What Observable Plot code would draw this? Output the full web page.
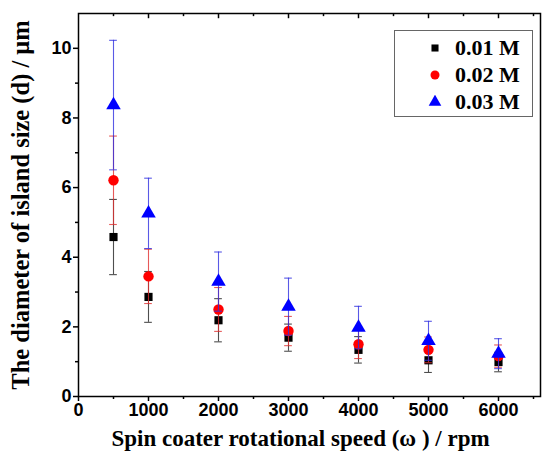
<!DOCTYPE html>
<html>
<head>
<meta charset="utf-8">
<script src="https://cdn.jsdelivr.net/npm/d3@7"></script>
<script src="https://cdn.jsdelivr.net/npm/@observablehq/plot@0.6"></script>
<style>
  html, body { margin: 0; padding: 0; background: #fff; }
  #wrap { position: relative; width: 544px; height: 457px; }
  #legend { position: absolute; left: 394px; top: 30px; width: 139px; height: 87px;
    border: 1px solid #666; background: #fff; box-sizing: border-box;
    font-family: "Liberation Serif", "Times New Roman", serif; font-weight: bold; font-size: 22px; }
  .row { position: absolute; left: 0; height: 24px; display: flex; align-items: center; }
  .row svg { margin-left: 33px; }
  .row span { margin-left: 13px; }
</style>
</head>
<body>
<div id="wrap"></div>
<script>
const speeds = [500, 1000, 2000, 3000, 4000, 5000, 6000];
const series = ["0.01 M", "0.02 M", "0.03 M"];
const d001 = [4.58, 2.86, 2.19, 1.69, 1.34, 1.04, 0.99];
const e001 = [1.08, 0.73, 0.62, 0.39, 0.38, 0.35, 0.28];
const d002 = [6.21, 3.45, 2.50, 1.88, 1.50, 1.34, 1.16];
const e002 = [1.27, 0.78, 0.63, 0.42, 0.41, 0.37, 0.32];
const d003 = [8.37, 5.26, 3.30, 2.58, 1.98, 1.60, 1.23];
const e003 = [1.86, 1.01, 0.85, 0.82, 0.61, 0.56, 0.43];
const xTicks = [0, 1000, 2000, 3000, 4000, 5000, 6000];
const xMinor = [500, 1500, 2500, 3500, 4500, 5500, 6500];
const yTicks = [0, 2, 4, 6, 8, 10];
const yMinor = [1, 3, 5, 7, 9];

const colors = {"0.01 M": "#000000", "0.02 M": "#ff0000", "0.03 M": "#0000ff"};
const barColors = {"0.01 M": "#222222", "0.02 M": "#e03030", "0.03 M": "#3030e0"};
const symbols = {"0.01 M": "square", "0.02 M": "circle", "0.03 M": "triangle"};
const radii = {"0.01 M": 4.6, "0.02 M": 5.2, "0.03 M": 5.4};

const vals = [d001, d002, d003];
const errs = [e001, e002, e003];
const data = [];
series.forEach((s, i) => speeds.forEach((x, j) => data.push({s, x, y: vals[i][j], e: errs[i][j]})));

const capHalf = 55;
const tickFont = "Liberation Sans, Arial, sans-serif";
const titleFont = "Liberation Serif, Times New Roman, serif";

const marks = [];
marks.push(Plot.frame({stroke: "#000", strokeWidth: 1.5}));
marks.push(Plot.axisX({ticks: xTicks, tickSize: 5, tickPadding: 2, tickFormat: d => String(d), label: null,
  fontSize: 18, fontWeight: "bold", fontFamily: tickFont, strokeWidth: 1.5}));
marks.push(Plot.axisX({ticks: xMinor, tickSize: 3, text: null, label: null, strokeWidth: 1.5}));
marks.push(Plot.axisY({ticks: yTicks, tickSize: 5, tickPadding: 2, tickFormat: d => String(d), label: null,
  fontSize: 18, fontWeight: "bold", fontFamily: tickFont, strokeWidth: 1.5}));
marks.push(Plot.axisY({ticks: yMinor, tickSize: 3, text: null, label: null, strokeWidth: 1.5}));
// inward ticks on top
marks.push(Plot.ruleX(xTicks.slice(1), {x: d => d, y1: 11, y2: 11 - 0.15, stroke: "#000", strokeWidth: 1.5}));
marks.push(Plot.ruleX(xMinor, {x: d => d, y1: 11, y2: 11 - 0.09, stroke: "#000", strokeWidth: 1.5}));

series.forEach(s => {
  const sub = data.filter(d => d.s === s);
  marks.push(Plot.ruleX(sub, {x: "x", y1: d => d.y - d.e, y2: d => d.y + d.e, stroke: barColors[s], strokeWidth: 1.1, strokeOpacity: 0.8}));
  marks.push(Plot.ruleY(sub, {y: d => d.y + d.e, x1: d => d.x - capHalf, x2: d => d.x + capHalf, stroke: barColors[s], strokeWidth: 1.1, strokeOpacity: 0.8}));
  marks.push(Plot.ruleY(sub, {y: d => d.y - d.e, x1: d => d.x - capHalf, x2: d => d.x + capHalf, stroke: barColors[s], strokeWidth: 1.1, strokeOpacity: 0.8}));
  marks.push(Plot.dot(sub, {x: "x", y: "y", symbol: symbols[s], r: radii[s], fill: colors[s], stroke: "none"}));
});

marks.push(Plot.text(["Spin coater rotational speed (\u03c9 ) / rpm"], {text: d => d, frameAnchor: "bottom", dy: 49, dx: -9,
  fontFamily: titleFont, fontWeight: "bold", fontSize: 23, fill: "#000"}));
marks.push(Plot.text(["The diameter of island size (d) / \u03bcm"], {text: d => d, frameAnchor: "left", dx: -57, rotate: -90,
  textAnchor: "middle", fontFamily: titleFont, fontWeight: "bold", fontSize: 24.5, fill: "#000"}));

const chart = Plot.plot({
  width: 544, height: 457,
  marginLeft: 78, marginRight: 4, marginTop: 13, marginBottom: 61,
  x: {domain: [0, 6600]},
  y: {domain: [0, 11]},
  style: {background: "#fff", overflow: "visible"},
  marks
});
const wrap = document.getElementById("wrap");
wrap.appendChild(chart);

// legend
const legend = document.createElement("div");
legend.id = "legend";
const rowTops = [5, 32, 59];
series.forEach((s, i) => {
  const row = document.createElement("div");
  row.className = "row";
  row.style.top = rowTops[i] + "px";
  const sym = d3.symbol(s === "0.01 M" ? d3.symbolSquare : s === "0.02 M" ? d3.symbolCircle : d3.symbolTriangle,
    Math.PI * radii[s] * radii[s] * 0.75)();
  row.innerHTML = `<svg width="14" height="14" viewBox="-7 -7 14 14"><path d="${sym}" fill="${colors[s]}"/></svg><span>${s}</span>`;
  legend.appendChild(row);
});
wrap.appendChild(legend);
</script>
</body>
</html>
